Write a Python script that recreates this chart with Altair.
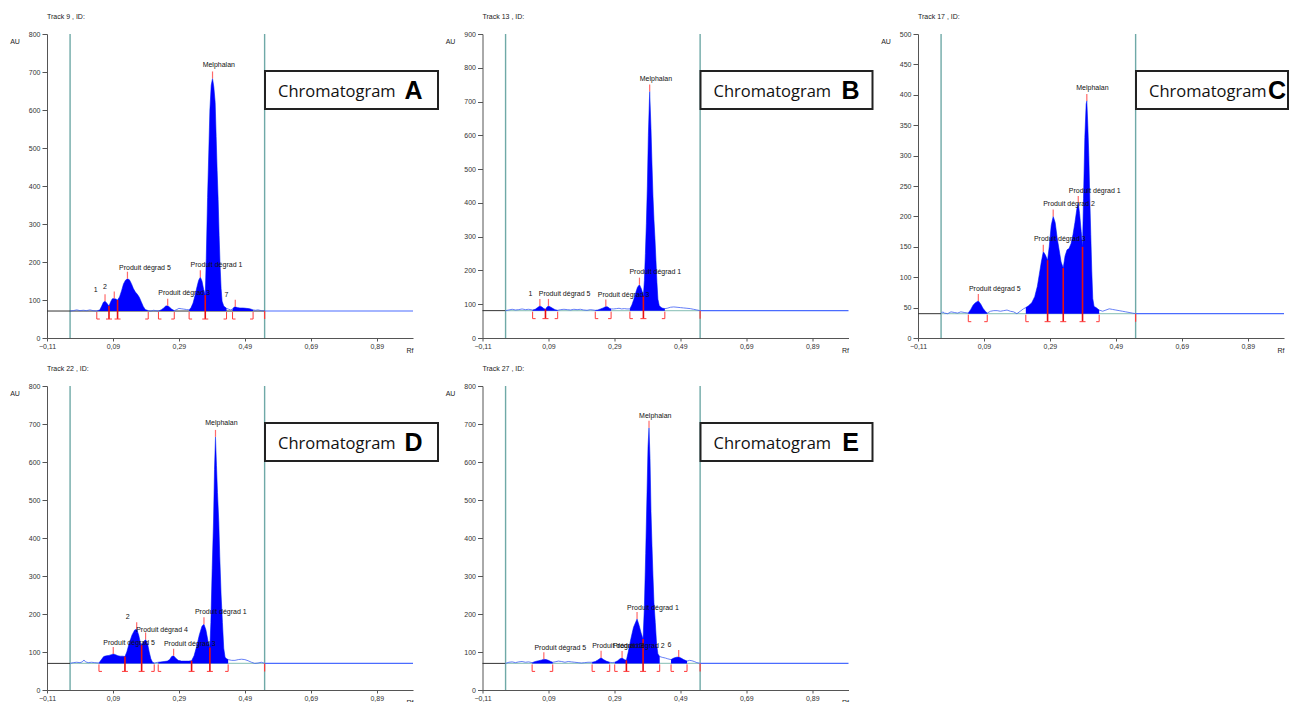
import altair as alt
import pandas as pd

F = "Liberation Sans"
XTICKS = [-0.11, 0.09, 0.29, 0.49, 0.69, 0.89]
WIN = [-0.04, 0.55]

# ---------------- Panel A (Track 9) ----------------
A_track = "Track  9 , ID:"
A_ymax = 800
A_yticks = [0, 100, 200, 300, 400, 500, 600, 700, 800]
A_base = 71
A_cx = [-0.04, -0.03, -0.02, -0.01, 0.0, 0.01, 0.02, 0.03, 0.041, 0.05, 0.056, 0.061, 0.066, 0.071,
        0.078, 0.083, 0.088, 0.094, 0.1, 0.104, 0.11, 0.116, 0.122, 0.128, 0.134, 0.14, 0.146, 0.152,
        0.158, 0.164, 0.17, 0.176, 0.182, 0.188, 0.197, 0.205, 0.213, 0.22, 0.228, 0.236, 0.244, 0.25,
        0.256, 0.262, 0.268, 0.276, 0.284, 0.29, 0.297, 0.305, 0.313, 0.321, 0.327, 0.333, 0.339, 0.345,
        0.35, 0.355, 0.36, 0.365, 0.37, 0.373, 0.377, 0.381, 0.384, 0.388, 0.392, 0.396, 0.4, 0.403,
        0.406, 0.409, 0.412, 0.415, 0.418, 0.421, 0.426, 0.4345, 0.44, 0.447, 0.4527, 0.457, 0.461,
        0.467, 0.475, 0.485, 0.495, 0.505, 0.515, 0.522, 0.53, 0.54, 0.55]
A_cy = [71, 72, 74, 72, 73, 72, 74, 72, 71, 74, 84, 94, 97, 92,
        84, 95, 103, 104, 102, 100, 108, 124, 142, 152, 156, 153, 143, 130,
        121, 115, 107, 95, 83, 75, 72, 71, 73, 72, 71, 74, 79, 84,
        85, 81, 76, 72, 75, 78, 77, 76, 75, 74, 80, 92, 112, 135,
        152, 160, 150, 128, 113, 210, 370, 500, 600, 665, 683, 660, 620, 530,
        440, 365, 270, 190, 130, 97, 84, 78, 76, 74, 76, 81, 82,
        80, 79, 79, 78, 77, 74, 73, 74, 72, 71]
A_open = [0.041, 0.228, 0.321, 0.4527]
A_close = [0.197, 0.276, 0.4345, 0.515]
A_split_x = [0.078, 0.104, 0.37]
A_split_y = [84, 100, 113]
A_peak_x = [0.066, 0.094, 0.134, 0.256, 0.355, 0.392, 0.461]
A_peak_y = [97, 104, 156, 85, 160, 683, 82]
A_lab_t = ["1", "2", "Produit dégrad 5", "Produit dégrad 3", "Produit dégrad 1", "Melphalan", "7"]
A_lab_x = [0.0375, 0.066, 0.187, 0.306, 0.404, 0.411, 0.4345]
A_lab_y = [126, 133, 185, 118, 192, 718, 112]

# ---------------- Panel B (Track 13) ----------------
B_track = "Track  13 , ID:"
B_ymax = 900
B_yticks = [0, 100, 200, 300, 400, 500, 600, 700, 800, 900]
B_base = 81
B_cx = [-0.04, -0.03, -0.02, -0.01, 0.0, 0.01, 0.02, 0.03, 0.042, 0.05, 0.057, 0.064, 0.07, 0.076,
        0.081, 0.085, 0.09, 0.096, 0.104, 0.11, 0.118, 0.127, 0.137, 0.147, 0.157, 0.167, 0.177,
        0.187, 0.197, 0.207, 0.217, 0.225, 0.232, 0.24, 0.248, 0.256, 0.264, 0.27, 0.275, 0.28,
        0.288, 0.296, 0.304, 0.312, 0.32, 0.328, 0.337, 0.343, 0.349, 0.355, 0.36, 0.366, 0.372,
        0.378, 0.381, 0.384, 0.387, 0.39, 0.393, 0.397, 0.401, 0.404, 0.407, 0.41, 0.413, 0.416,
        0.419, 0.422, 0.426, 0.432, 0.437, 0.443, 0.45, 0.46, 0.47, 0.48, 0.49, 0.5, 0.51, 0.52,
        0.53, 0.54, 0.55]
B_cy = [81, 83, 85, 83, 84, 86, 84, 85, 83, 85, 90, 95, 92, 87,
        85, 91, 95, 92, 87, 84, 82, 84, 85, 84, 83, 85, 84,
        85, 83, 82, 84, 83, 82, 83, 86, 89, 93, 92, 88, 86,
        86, 87, 88, 86, 87, 86, 86, 98, 115, 135, 150, 158, 145,
        125, 170, 250, 340, 450, 600, 730, 620, 515, 420, 350, 295, 230,
        165, 115, 96, 90, 88, 87, 88, 91, 92, 91, 90, 89, 88, 87,
        85, 83, 81]
B_open = [0.042, 0.232, 0.337]
B_close = [0.118, 0.28, 0.443]
B_split_x = [0.081, 0.378]
B_split_y = [85, 125]
B_peak_x = [0.064, 0.09, 0.264, 0.366, 0.397]
B_peak_y = [95, 95, 93, 158, 730]
B_lab_t = ["1", "Produit dégrad 5", "Produit dégrad 3", "Produit dégrad 1", "Melphalan"]
B_lab_x = [0.0355, 0.139, 0.318, 0.414, 0.416]
B_lab_y = [130, 130, 128, 194, 767]

# ---------------- Panel C (Track 17) ----------------
C_track = "Track  17 , ID:"
C_ymax = 500
C_yticks = [0, 50, 100, 150, 200, 250, 300, 350, 400, 450, 500]
C_base = 40
C_cx = [-0.04, -0.035, -0.03, -0.02, -0.01, 0.0, 0.01, 0.02, 0.03, 0.0425, 0.05, 0.057, 0.064,
        0.073, 0.08, 0.087, 0.094, 0.1, 0.11, 0.12, 0.13, 0.14, 0.15, 0.16, 0.17, 0.18, 0.19, 0.2,
        0.21, 0.217, 0.225, 0.235, 0.244, 0.252, 0.258, 0.264, 0.27, 0.276, 0.283, 0.288, 0.294,
        0.3, 0.306, 0.312, 0.318, 0.324, 0.3305, 0.336, 0.342, 0.348, 0.354, 0.36, 0.366, 0.372,
        0.376, 0.38, 0.385, 0.389, 0.392, 0.396, 0.4, 0.402, 0.405, 0.408, 0.411, 0.414, 0.417,
        0.42, 0.424, 0.43, 0.4395, 0.45, 0.46, 0.47, 0.48, 0.49, 0.5, 0.51, 0.52, 0.53, 0.54, 0.55]
C_cy = [40, 43, 41, 40, 43, 42, 41, 43, 42, 41, 47, 54, 58,
        61, 56, 49, 44, 41, 44, 45, 45, 44, 45, 46, 44, 43, 40, 44,
        48, 50, 53, 58, 68, 85, 105, 125, 142, 137, 128, 150, 185,
        200, 190, 165, 145, 125, 115, 135, 145, 147, 155, 170, 190, 213,
        222, 205, 175, 150, 230, 330, 385, 390, 350, 300, 230, 170, 110,
        65, 52, 50, 46, 44, 46, 48, 47, 46, 45, 44, 43, 42, 41, 40]
C_open = [0.0425, 0.217]
C_close = [0.1, 0.4395]
C_split_x = [0.283, 0.3305, 0.389]
C_split_y = [128, 115, 150]
C_peak_x = [0.073, 0.27, 0.3, 0.376, 0.402]
C_peak_y = [61, 142, 200, 222, 390]
C_lab_t = ["Produit dégrad 5", "Produit dégrad 3", "Produit dégrad 2", "Produit dégrad 1", "Melphalan"]
C_lab_x = [0.123, 0.32, 0.348, 0.426, 0.419]
C_lab_y = [81, 163, 221, 242, 412]

# ---------------- Panel D (Track 22) ----------------
D_track = "Track  22 , ID:"
D_ymax = 800
D_yticks = [0, 100, 200, 300, 400, 500, 600, 700, 800]
D_base = 70
D_cx = [-0.04, -0.03, -0.02, -0.01, -0.003, 0.002, 0.007, 0.015, 0.025, 0.035, 0.0476, 0.055,
        0.062, 0.07, 0.078, 0.085, 0.091, 0.098, 0.105, 0.112, 0.12, 0.1264, 0.132, 0.14, 0.148,
        0.156, 0.162, 0.168, 0.173, 0.177, 0.182, 0.189, 0.195, 0.2, 0.205, 0.21, 0.2152, 0.22,
        0.2273, 0.235, 0.245, 0.255, 0.262, 0.268, 0.274, 0.28, 0.288, 0.298, 0.31, 0.32, 0.3285,
        0.336, 0.344, 0.352, 0.36, 0.366, 0.372, 0.378, 0.384, 0.387, 0.391, 0.395, 0.398, 0.401,
        0.404, 0.407, 0.411, 0.414, 0.418, 0.422, 0.426, 0.43, 0.435, 0.4394, 0.45, 0.46, 0.47,
        0.48, 0.49, 0.5, 0.51, 0.52, 0.53, 0.54, 0.55]
D_cy = [70, 72, 73, 72, 74, 79, 74, 72, 73, 72, 71, 80,
        88, 90, 91, 93, 95, 93, 90, 89, 89, 88, 100, 125, 145,
        158, 160, 145, 125, 118, 126, 133, 122, 100, 82, 73, 71, 72,
        73, 74, 75, 76, 80, 88, 90, 84, 78, 76, 76, 76, 77,
        90, 115, 145, 168, 173, 158, 130, 112, 178, 320, 442, 580, 666,
        590, 520, 442, 350, 250, 178, 110, 86, 82, 80, 78, 78, 80,
        81, 80, 77, 73, 70, 71, 73, 70]
D_open = [0.0476, 0.2273]
D_close = [0.2152, 0.4394]
D_split_x = [0.1264, 0.177, 0.3285, 0.384]
D_split_y = [88, 118, 77, 112]
D_peak_x = [0.091, 0.162, 0.189, 0.274, 0.366, 0.401]
D_peak_y = [95, 160, 133, 90, 173, 666]
D_lab_t = ["Produit dégrad 5", "2", "Produit dégrad 4", "Produit dégrad 3", "Produit dégrad 1", "Melphalan"]
D_lab_x = [0.139, 0.135, 0.239, 0.323, 0.417, 0.419]
D_lab_y = [125, 191, 158, 121, 206, 703]

# ---------------- Panel E (Track 27) ----------------
E_track = "Track  27 , ID:"
E_ymax = 800
E_yticks = [0, 100, 200, 300, 400, 500, 600, 700, 800]
E_base = 70
E_cx = [-0.04, -0.03, -0.02, -0.01, 0.0, 0.01, 0.02, 0.03, 0.0405, 0.05, 0.06, 0.07, 0.076, 0.083,
        0.09, 0.097, 0.103, 0.11, 0.12, 0.13, 0.14, 0.15, 0.16, 0.17, 0.18, 0.19, 0.2, 0.21, 0.2224,
        0.232, 0.24, 0.2496, 0.257, 0.265, 0.2758, 0.283, 0.291, 0.3, 0.307, 0.3133, 0.32, 0.3264,
        0.332, 0.34, 0.348, 0.3587, 0.365, 0.371, 0.377, 0.381, 0.385, 0.389, 0.392, 0.395, 0.398,
        0.401, 0.404, 0.407, 0.41, 0.414, 0.418, 0.422, 0.4274, 0.435, 0.445, 0.452, 0.4618, 0.47,
        0.478, 0.485, 0.492, 0.5, 0.5103, 0.518, 0.525, 0.532, 0.54, 0.55]
E_cy = [70, 73, 74, 72, 74, 75, 73, 74, 72, 75, 77, 79, 81, 80,
        78, 75, 73, 74, 76, 75, 73, 75, 74, 73, 72, 71, 72, 73, 73,
        75, 79, 85, 80, 76, 73, 72, 73, 77, 82, 84, 80, 78,
        100, 135, 165, 187, 170, 150, 134, 220, 360, 520, 640, 690, 610,
        470, 380, 300, 230, 178, 120, 95, 88, 86, 84, 82, 80, 84,
        86, 87, 84, 80, 76, 78, 77, 75, 72, 70]
E_open = [0.0405, 0.2224, 0.291, 0.4618]
E_close = [0.103, 0.2758, 0.4274, 0.5103]
E_split_x = [0.3264, 0.377]
E_split_y = [78, 134]
E_peak_x = [0.076, 0.2496, 0.3133, 0.3587, 0.395, 0.485]
E_peak_y = [81, 85, 84, 187, 690, 87]
E_lab_t = ["Produit dégrad 5", "Produit dégrad 3", "Produit dégrad 2", "6", "Produit dégrad 1", "Melphalan"]
E_lab_x = [0.126, 0.301, 0.364, 0.457, 0.407, 0.414]
E_lab_y = [110, 116, 116, 118, 216, 720]

PANELS = [
    dict(track=A_track, ymax=A_ymax, yticks=A_yticks, base=A_base, cx=A_cx, cy=A_cy, op=A_open,
         cl=A_close, sx=A_split_x, sy=A_split_y, px=A_peak_x, py=A_peak_y, lt=A_lab_t, lx=A_lab_x,
         ly=A_lab_y, letter="A", dark=True, bx2=391, tx=231, lx_pos=366.5),
    dict(track=B_track, ymax=B_ymax, yticks=B_yticks, base=B_base, cx=B_cx, cy=B_cy, op=B_open,
         cl=B_close, sx=B_split_x, sy=B_split_y, px=B_peak_x, py=B_peak_y, lt=B_lab_t, lx=B_lab_x,
         ly=B_lab_y, letter="B", dark=False, bx2=390, tx=231, lx_pos=368),
    dict(track=C_track, ymax=C_ymax, yticks=C_yticks, base=C_base, cx=C_cx, cy=C_cy, op=C_open,
         cl=C_close, sx=C_split_x, sy=C_split_y, px=C_peak_x, py=C_peak_y, lt=C_lab_t, lx=C_lab_x,
         ly=C_lab_y, letter="C", dark=False, bx2=370, tx=231, lx_pos=359),
    dict(track=D_track, ymax=D_ymax, yticks=D_yticks, base=D_base, cx=D_cx, cy=D_cy, op=D_open,
         cl=D_close, sx=D_split_x, sy=D_split_y, px=D_peak_x, py=D_peak_y, lt=D_lab_t, lx=D_lab_x,
         ly=D_lab_y, letter="D", dark=False, bx2=391, tx=231, lx_pos=366.5),
    dict(track=E_track, ymax=E_ymax, yticks=E_yticks, base=E_base, cx=E_cx, cy=E_cy, op=E_open,
         cl=E_close, sx=E_split_x, sy=E_split_y, px=E_peak_x, py=E_peak_y, lt=E_lab_t, lx=E_lab_x,
         ly=E_lab_y, letter="E", dark=False, bx2=390, tx=231, lx_pos=368),
]

W, H = 366, 304


def panel(P):
    xs = alt.Scale(domain=[-0.11, 1.0], nice=False, zero=False)
    ys = alt.Scale(domain=[0, P["ymax"]], nice=False, zero=False)
    common = dict(title=None, grid=False, labelFont=F, labelFontSize=7, labelColor="#333",
                  domainColor="#555", tickColor="#555", domainWidth=1, labelOverlap=False)
    xaxis = alt.Axis(values=XTICKS, labelExpr="replace(format(datum.value, '.2f'), '.', ',')",
                     tickSize=3, labelPadding=1, labelFlush=False, **common)
    yaxis = alt.Axis(values=P["yticks"], tickCount=len(P["yticks"]), tickSize=5, labelPadding=2,
                     labelFlush=False, **common)

    def X(f):
        return alt.X(f, type="quantitative", scale=xs, axis=xaxis)

    def Y(f):
        return alt.Y(f, type="quantitative", scale=ys, axis=yaxis)

    base = P["base"]
    curve = pd.DataFrame({"x": P["cx"], "y": P["cy"]})
    curve["b"] = base
    segs = []
    for i, (s, e) in enumerate(zip(P["op"], P["cl"])):
        sub = curve[(curve.x >= s - 1e-9) & (curve.x <= e + 1e-9)].copy()
        sub["seg"] = i
        segs.append(sub)
    area_df = pd.concat(segs)

    dummy = pd.DataFrame({"k": [0]})
    layers = []

    # analysis window lines
    win = pd.DataFrame({"x": WIN, "y0": [P["ymax"]] * 2, "y1": [0, 0]})
    layers.append(alt.Chart(win).mark_rule(color="#6fa9a7", strokeWidth=1.4).encode(
        x=X("x"), y=Y("y0"), y2=alt.Y2("y1")))

    # baselines
    bl_dark = pd.DataFrame({"x0": [-0.11], "x1": [WIN[1] if P["dark"] else WIN[0]], "b": [base]})
    layers.append(alt.Chart(bl_dark).mark_rule(color="#333", strokeWidth=1).encode(
        x=X("x0"), x2="x1", y=Y("b")))
    if not P["dark"]:
        bl_light = pd.DataFrame({"x0": [WIN[0]], "x1": [WIN[1]], "b": [base]})
        layers.append(alt.Chart(bl_light).mark_rule(color="#9ccac2", strokeWidth=1.2).encode(
            x=X("x0"), x2="x1", y=Y("b")))
    bl_blue = pd.DataFrame({"x0": [WIN[1]], "x1": [1.0], "b": [base]})
    layers.append(alt.Chart(bl_blue).mark_rule(color="#4a6cff", strokeWidth=1.2).encode(
        x=X("x0"), x2="x1", y=Y("b")))

    # noise / full curve line
    layers.append(alt.Chart(curve).mark_line(color="#3e5ef5", strokeWidth=0.8).encode(
        x=X("x"), y=Y("y")))
    # filled peaks
    layers.append(alt.Chart(area_df).mark_area(color="#0000ff", opacity=1).encode(
        x=X("x"), y=Y("y"), y2=alt.Y2("b"), detail="seg:N"))

    # peak ticks
    pk = pd.DataFrame({"x": P["px"], "y": P["py"]})
    layers.append(alt.Chart(pk).mark_rule(color="#ff6a6a", strokeWidth=1.2, y2Offset=-7).encode(
        x=X("x"), y=Y("y"), y2=alt.Y2("y")))

    red = "#ff3a3a"
    op = pd.DataFrame({"x": P["op"], "b": base})
    cl = pd.DataFrame({"x": P["cl"], "b": base})
    for df, d in ((op, 3), (cl, -3)):
        layers.append(alt.Chart(df).mark_rule(color=red, strokeWidth=1, yOffset=1, y2Offset=8).encode(
            x=X("x"), y=Y("b"), y2=alt.Y2("b")))
        layers.append(alt.Chart(df).mark_rule(color=red, strokeWidth=1, yOffset=8, x2Offset=d).encode(
            x=X("x"), x2=alt.X2("x"), y=Y("b")))
    sp = pd.DataFrame({"x": P["sx"], "h": P["sy"], "b": base})
    layers.append(alt.Chart(sp).mark_rule(color="#e81010", strokeWidth=1.6, y2Offset=8).encode(
        x=X("x"), y=Y("h"), y2=alt.Y2("b")))
    layers.append(alt.Chart(sp).mark_rule(color=red, strokeWidth=1, yOffset=8, xOffset=-3,
                                          x2Offset=3).encode(x=X("x"), x2=alt.X2("x"), y=Y("b")))
    endm = pd.DataFrame({"x": [WIN[1]], "b": [base]})
    layers.append(alt.Chart(endm).mark_rule(color=red, strokeWidth=1.2, y2Offset=8).encode(
        x=X("x"), y=Y("b"), y2=alt.Y2("b")))

    # peak labels
    lab = pd.DataFrame({"t": P["lt"], "x": P["lx"], "y": P["ly"]})
    layers.append(alt.Chart(lab).mark_text(font=F, fontSize=7, color="#111", baseline="middle").encode(
        x=X("x"), y=Y("y"), text="t:N"))

    # chromatogram box
    layers.append(alt.Chart(dummy).mark_rect(fill="white", stroke="#222", strokeWidth=2).encode(
        x=alt.value(218), x2=alt.value(P["bx2"]), y=alt.value(37), y2=alt.value(75)))
    layers.append(alt.Chart(dummy).mark_text(text="Chromatogram", font="Open Sans", fontSize=16.5,
                                             color="#111", align="left", baseline="alphabetic").encode(
        x=alt.value(P["tx"]), y=alt.value(63)))
    layers.append(alt.Chart(dummy).mark_text(text=P["letter"], font=F, fontSize=25, fontWeight="bold",
                                             color="#000", align="center", baseline="alphabetic").encode(
        x=alt.value(P["lx_pos"]), y=alt.value(65)))

    # axis titles and track caption
    layers.append(alt.Chart(dummy).mark_text(text="AU", font=F, fontSize=7, color="#222").encode(
        x=alt.value(-32), y=alt.value(8)))
    layers.append(alt.Chart(dummy).mark_text(text="Rf", font=F, fontSize=7, color="#222").encode(
        x=alt.value(363), y=alt.value(317)))
    layers.append(alt.Chart(dummy).mark_text(text=P["track"], font=F, fontSize=7, color="#222",
                                             align="left").encode(x=alt.value(0), y=alt.value(-17)))

    return alt.layer(*layers).properties(width=W, height=H)


charts = [panel(P) for P in PANELS]
chart = alt.concat(*charts, columns=3, spacing={"row": 48, "column": 69.5}, bounds="flush").properties(
    padding={"left": 2, "top": 5, "right": 0, "bottom": 0}, background="white"
).configure_view(stroke=None)

chart.save("out.html", embed_options={"renderer": "svg", "actions": False})
